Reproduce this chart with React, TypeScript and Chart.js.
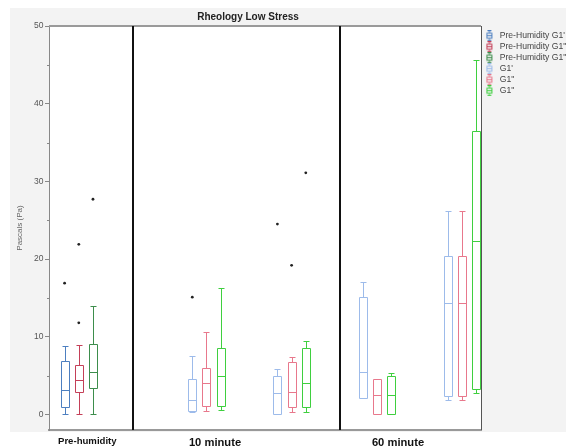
import React, { useEffect, useRef } from 'react';
import { Chart, registerables } from 'chart.js';

Chart.register(...registerables);

// ---------- text ----------
const chartTitle = 'Rheology Low Stress';
const yAxisTitle = 'Pascals (Pa)';
const groupLabels = ['Pre-humidity', '10 minute', '60 minute'];
const seriesNames = [
  "Pre-Humidity G1'",
  'Pre-Humidity G1"',
  'Pre-Humidity G1"',
  "G1'",
  'G1"',
  'G1"',
];
const yTicks = [0, 10, 20, 30, 40, 50];
const yMinorTicks = [5, 15, 25, 35, 45];

// ---------- data: five-number summaries [min, Q1, median, Q3, max] ----------
const preG1a = [[0, 1.0, 3.1, 6.9, 8.8]];
const preG1b = [[0, 2.9, 4.5, 6.4, 9.0]];
const preG1c = [[0, 3.4, 5.5, 9.1, 14.0]];
const g1a = [
  [0.3, 0.4, 1.9, 4.6, 7.5],
  [0.1, 0.1, 2.7, 5.0, 5.8],
  [2.1, 2.1, 5.5, 15.1, 17.1],
  [1.8, 2.4, 14.3, 20.4, 26.2],
];
const g1b = [
  [0.4, 1.1, 4.0, 6.0, 10.6],
  [0.3, 0.9, 2.9, 6.8, 7.4],
  [0.1, 0.1, 2.5, 4.6, 4.6],
  [1.8, 2.4, 14.3, 20.4, 26.2],
];
const g1c = [
  [0.6, 1.1, 4.9, 8.6, 16.3],
  [0.3, 0.9, 4.1, 8.5, 9.5],
  [0.1, 0.1, 2.5, 5.0, 5.3],
  [2.8, 3.3, 22.3, 36.5, 45.6],
];
// outliers, one list per box
const preG1aOut = [[16.9]];
const preG1bOut = [[11.8, 21.9]];
const preG1cOut = [[27.7]];
const g1aOut = [[15.1], [24.5], [], []];
const g1bOut = [[], [19.2], [], []];
const g1cOut = [[], [31.1], [], []];

// ---------- layout (axis units) ----------
const clusterSlots = [2, 11, 17, 23, 29];
const sectionDividers = [5.8, 20.4];
const groupLabelSlots = [2.6, 11.6, 24.5];
const seriesColors = ['#4d7fc0', '#c43f58', '#3d8d4c', '#9dbbea', '#e8788c', '#3fcf3f'];

const series = [
  { boxes: preG1a, outliers: preG1aOut, clusters: [0], offset: -1 },
  { boxes: preG1b, outliers: preG1bOut, clusters: [0], offset: 0 },
  { boxes: preG1c, outliers: preG1cOut, clusters: [0], offset: 1 },
  { boxes: g1a, outliers: g1aOut, clusters: [1, 2, 3, 4], offset: -1 },
  { boxes: g1b, outliers: g1bOut, clusters: [1, 2, 3, 4], offset: 0 },
  { boxes: g1c, outliers: g1cOut, clusters: [1, 2, 3, 4], offset: 1 },
].map((s, i) => ({ ...s, name: seriesNames[i], color: seriesColors[i] }));

function makeIcon(color: string) {
  const c = document.createElement('canvas');
  c.width = 8;
  c.height = 11;
  const g = c.getContext('2d')!;
  g.strokeStyle = color;
  g.lineWidth = 1;
  g.beginPath();
  g.moveTo(2, 0.5); g.lineTo(6, 0.5);
  g.moveTo(4, 0.5); g.lineTo(4, 3);
  g.moveTo(4, 8); g.lineTo(4, 10.5);
  g.moveTo(2, 10.5); g.lineTo(6, 10.5);
  g.moveTo(1, 5.5); g.lineTo(7, 5.5);
  g.stroke();
  g.strokeRect(1.5, 3, 5, 5);
  return c;
}

const backgroundPlugin = {
  id: 'panelBg',
  beforeDraw(chart: any) {
    const { ctx, chartArea: a } = chart;
    ctx.save();
    ctx.fillStyle = '#f3f3f3';
    ctx.fillRect(10, 8, chart.width - 10, a.bottom + 2 - 8);
    ctx.fillStyle = '#ffffff';
    ctx.fillRect(a.left, a.top, a.right - a.left, a.bottom - a.top);
    ctx.restore();
  },
};

const boxPlugin = {
  id: 'boxes',
  beforeDatasetsDraw(chart: any) {
    const { ctx, scales } = chart;
    const x = scales.x;
    const y = scales.y;
    series.forEach((s) => {
      s.boxes.forEach((b, k) => {
        const slot = clusterSlots[s.clusters[k]] + s.offset;
        const cx = Math.round(x.getPixelForValue(slot)) + 0.5;
        const hw = Math.round(x.getPixelForValue(slot + 0.27) - x.getPixelForValue(slot));
        const cw = Math.round(hw * 0.7);
        const [mn, q1, md, q3, mx] = b.map((v) => Math.round(y.getPixelForValue(v)) + 0.5);
        ctx.save();
        ctx.lineWidth = 1;
        ctx.strokeStyle = s.color;
        ctx.beginPath();
        ctx.moveTo(cx, mx); ctx.lineTo(cx, q3);
        ctx.moveTo(cx, q1); ctx.lineTo(cx, mn);
        ctx.moveTo(cx - cw, mx); ctx.lineTo(cx + cw, mx);
        ctx.moveTo(cx - cw, mn); ctx.lineTo(cx + cw, mn);
        ctx.moveTo(cx - hw, md); ctx.lineTo(cx + hw, md);
        ctx.rect(cx - hw, q3, hw * 2, q1 - q3);
        ctx.stroke();
        ctx.restore();
      });
    });
  },
  afterDraw(chart: any) {
    const { ctx, chartArea: a, scales } = chart;
    const x = scales.x;
    const y = scales.y;
    ctx.save();
    // top border
    ctx.strokeStyle = '#9a9a9a';
    ctx.lineWidth = 2;
    ctx.beginPath();
    ctx.moveTo(a.left, a.top);
    ctx.lineTo(a.right, a.top);
    ctx.stroke();
    // right border
    ctx.strokeStyle = '#555';
    ctx.lineWidth = 1;
    ctx.beginPath();
    ctx.moveTo(a.right + 0.5, a.top);
    ctx.lineTo(a.right + 0.5, a.bottom);
    ctx.stroke();
    // section dividers
    ctx.strokeStyle = '#111';
    ctx.lineWidth = 2;
    sectionDividers.forEach((d) => {
      const px = Math.round(x.getPixelForValue(d));
      ctx.beginPath();
      ctx.moveTo(px, a.top);
      ctx.lineTo(px, a.bottom);
      ctx.stroke();
    });
    // minor ticks
    ctx.strokeStyle = '#888';
    ctx.lineWidth = 1;
    yMinorTicks.forEach((v) => {
      const py = Math.round(y.getPixelForValue(v)) + 0.5;
      ctx.beginPath();
      ctx.moveTo(a.left - 2, py);
      ctx.lineTo(a.left, py);
      ctx.stroke();
    });
    // title
    ctx.fillStyle = '#222';
    ctx.font = 'bold 10px "Liberation Sans", Arial, sans-serif';
    ctx.textAlign = 'center';
    ctx.textBaseline = 'middle';
    ctx.fillText(chartTitle, 248, 17);
    ctx.restore();
  },
};

export default function App() {
  const ref = useRef<HTMLCanvasElement>(null);
  useEffect(() => {
    document.body.style.margin = '0';
    Chart.defaults.font.family = '"Liberation Sans", Arial, sans-serif';
    const icons = series.map((s) => makeIcon(s.color));
    const datasets = series.map((s) => ({
      label: s.name,
      data: s.outliers.flatMap((vals, k) =>
        vals.map((v) => ({ x: clusterSlots[s.clusters[k]] + s.offset, y: v }))
      ),
      pointRadius: 1.4,
      pointBackgroundColor: '#222',
      pointBorderWidth: 0,
      borderColor: s.color,
      showLine: false,
    }));
    const chart = new Chart(ref.current!, {
      type: 'scatter',
      data: { datasets },
      options: {
        animation: false,
        responsive: false,
        layout: { padding: { left: 10, top: 26, right: 0, bottom: 0 } },
        plugins: {
          title: { display: false },
          tooltip: { enabled: false },
          legend: {
            position: 'right',
            align: 'start',
            maxWidth: 85,
            title: { display: true, text: ' ', padding: 0, font: { size: 2.5 } },
            labels: {
              usePointStyle: true,
              pointStyleWidth: 12,
              boxHeight: 8,
              padding: 2.4,
              color: '#444',
              font: { size: 8.6 },
              generateLabels: () =>
                series.map((s, i) => ({
                  text: s.name,
                  fillStyle: s.color,
                  strokeStyle: s.color,
                  lineWidth: 0,
                  pointStyle: icons[i],
                  hidden: false,
                  datasetIndex: i,
                  fontColor: '#444',
                })),
            },
          },
        },
        scales: {
          x: {
            type: 'linear',
            min: -0.1,
            max: 30.35,
            grid: { display: false, drawTicks: false },
            border: { display: true, color: '#999', width: 2 },
            afterBuildTicks: (s: any) => {
              s.ticks = groupLabelSlots.map((v) => ({ value: v }));
            },
            afterFit: (s: any) => {
              s.height = 16;
            },
            ticks: {
              autoSkip: false,
              maxRotation: 0,
              padding: 6,
              color: '#111',
              font: (c: any) => ({ size: c.index === 0 ? 9.6 : 11.2, weight: 'bold' }),
              callback: (_v: any, i: number) => groupLabels[i],
            },
          },
          y: {
            type: 'linear',
            min: -2,
            max: 50,
            afterBuildTicks: (s: any) => {
              s.ticks = yTicks.map((v) => ({ value: v }));
            },
            afterFit: (s: any) => {
              s.width = 39;
            },
            grid: { display: true, drawOnChartArea: false, drawTicks: true, tickLength: 4, color: '#888' },
            border: { display: true, color: '#888', width: 1 },
            ticks: { color: '#555', padding: 1.5, font: { size: 8.5 } },
            title: {
              display: true,
              text: yAxisTitle,
              color: '#666',
              font: { size: 8 },
              padding: { top: 5, bottom: 0 },
            },
          },
        },
      },
      plugins: [backgroundPlugin, boxPlugin],
    } as any);
    return () => chart.destroy();
  }, []);
  return (
    <div style={{ width: 566, height: 446 }}>
      <canvas ref={ref} width={566} height={446} style={{ display: 'block' }} />
    </div>
  );
}
